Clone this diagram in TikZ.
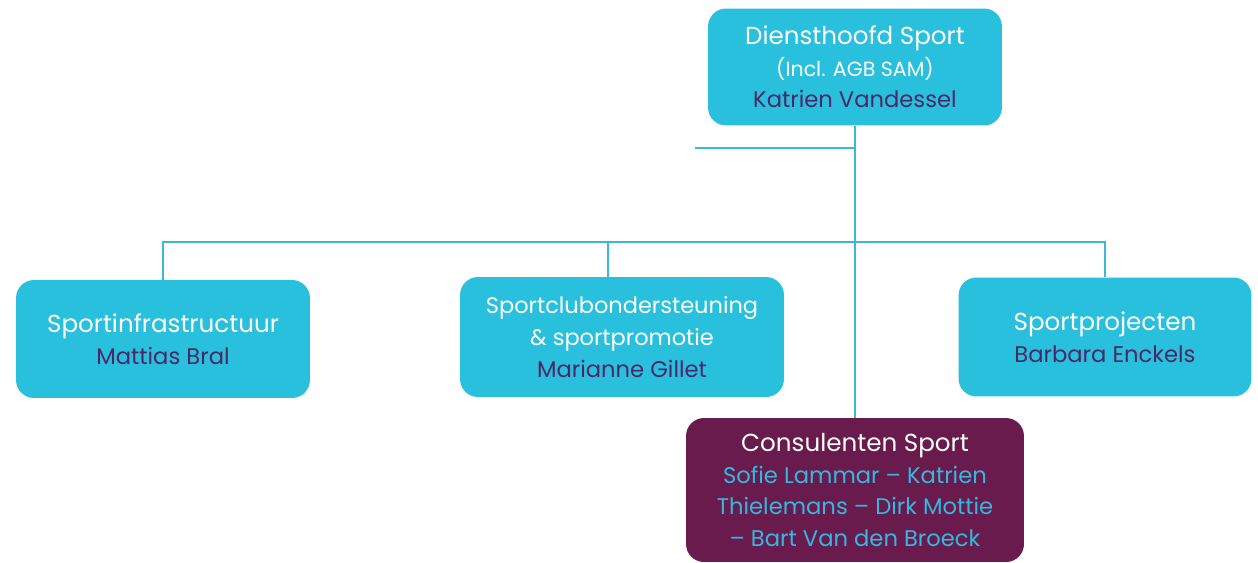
\documentclass[tikz,border=0pt]{standalone}
\usepackage{fontspec}
\setmainfont{Poppins}
\definecolor{SportCyaan}{RGB}{41, 192, 222}
\definecolor{SportLijn}{RGB}{58, 186, 214}
\definecolor{SportPaars}{RGB}{106, 27, 77}
\definecolor{SportNaam}{RGB}{74, 40, 104}
\definecolor{SportBlauw}{RGB}{52, 184, 224}
\tikzset{
	dienst/.style={fill=SportCyaan, rounded corners=0.36cm, text=white, align=center, inner sep=0pt, font=\fontsize{14}{18}\selectfont},
	lijn/.style={draw=SportLijn, line width=1.6pt}
}
\newcommand{\naam}[2][SportNaam]{{\fontsize{12.9}{18}\selectfont\textcolor{#1}{#2}}}

\begin{document}
\begin{tikzpicture}[x=0.02cm, y=-0.02cm]
			\useasboundingbox (0,0) rectangle (1258,562);
			\draw (855,67) node[dienst, minimum width=5.88cm, minimum height=2.34cm] (chef) {Diensthoofd Sport\\{\fontsize{11.7}{18}\selectfont (Incl. AGB SAM)}\\\naam{Katrien Vandessel}};
			\draw (163,339) node[dienst, minimum width=5.88cm, minimum height=2.36cm] (infra) {Sportinfrastructuur\\\naam{Mattias Bral}};
			\draw (622,337) node[dienst, font=\fontsize{12.8}{18}\selectfont, minimum width=6.48cm, minimum height=2.4cm] (club) {Sportclubondersteuning\\\& sportpromotie\\\naam{Marianne Gillet}};
			\draw (1105,337) node[dienst, minimum width=5.86cm, minimum height=2.38cm] (project) {Sportprojecten\\\naam{Barbara Enckels}};
			\draw (855,490) node[dienst, fill=SportPaars, minimum width=6.76cm, minimum height=2.88cm] (consulent) {Consulenten Sport\\\naam[SportBlauw]{Sofie Lammar -- Katrien}\\\naam[SportBlauw]{Thielemans -- Dirk Mottie}\\\naam[SportBlauw]{-- Bart Van den Broeck}};
			% verbindingen
			\coordinate (tak) at (855,242);
			\coordinate (stomp) at (695,148);
			\coordinate (clubtak) at (608,242);
			\draw[lijn] (chef.south) -- (consulent.north);
			\draw[lijn] (stomp) -- (stomp -| chef.south);
			\draw[lijn] (infra.north) -- (infra.north |- tak) -- (project.north |- tak) -- (project.north);
			\draw[lijn] (clubtak) -- (clubtak |- club.north);
		\end{tikzpicture}
\end{document}
